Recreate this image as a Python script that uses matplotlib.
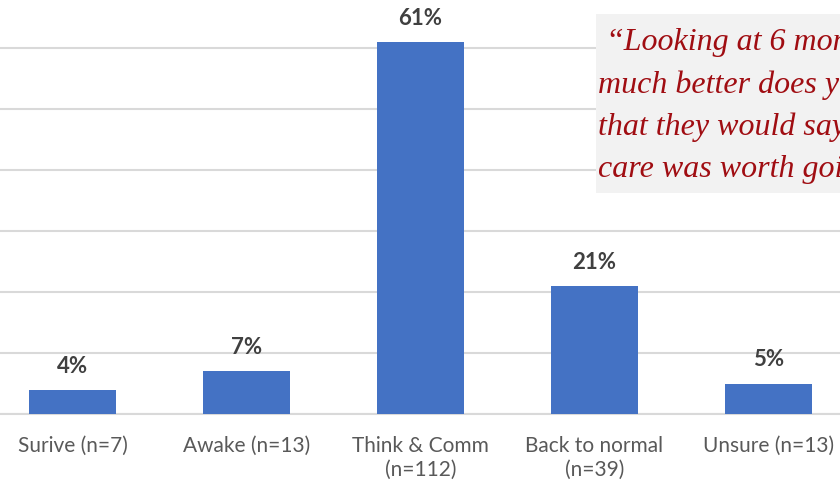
import matplotlib
matplotlib.use("Agg")
import matplotlib.pyplot as plt
from matplotlib.patches import Rectangle

categories = ["Surive (n=7)", "Awake (n=13)", "Think & Comm\n(n=112)",
              "Back to normal\n(n=39)", "Unsure (n=13)"]
percentages = [4, 7, 61, 21, 5]
y_ticks = [0, 10, 20, 30, 40, 50, 60]
quote_lines = [" \u201cLooking at 6 months, how",
               "much better does your patient",
               "that they would say their ICU",
               "care was worth going through?\u201d"]

BAR_BLUE = "#4472c4"
GRID_GREY = "#d9d9d9"
TEXT_GREY = "#595959"
LABEL_DARK = "#404040"
QUOTE_RED = "#a00d12"

fig = plt.figure(figsize=(8.4, 4.9), dpi=100)
W, H = 840, 490

# axes spans slightly past the figure edges
ax_left, ax_right = -14.5, 855.5
ax_bottom, ax_top = 414, 0
ax = fig.add_axes([ax_left / W, 1 - ax_bottom / H,
                   (ax_right - ax_left) / W, (ax_bottom - ax_top) / H])

x = list(range(len(categories)))
bars = ax.bar(x, percentages, width=0.5, color=BAR_BLUE, zorder=3)
ax.set_xlim(-0.5, len(categories) - 0.5)
ax.set_ylim(0, 67.9)
ax.set_yticks(y_ticks)
ax.yaxis.grid(True, color=GRID_GREY, linewidth=1.5, zorder=0)
ax.tick_params(axis="y", left=False, labelleft=False)
ax.set_xticks(x)
ax.set_xticklabels(categories, fontsize=15, color=TEXT_GREY,
                   family="Lato", linespacing=1.25)
ax.tick_params(axis="x", length=0, pad=16)
for side in ("top", "right", "left"):
    ax.spines[side].set_visible(False)
ax.spines["bottom"].set_color(GRID_GREY)
ax.spines["bottom"].set_linewidth(1.5)

for rect, v in zip(bars, percentages):
    ax.annotate(f"{v}%", (rect.get_x() + rect.get_width() / 2, v),
                xytext=(0, 17), textcoords="offset points",
                ha="center", va="center", fontsize=16, fontweight="bold",
                color=LABEL_DARK, family="Lato", zorder=4)

# quotation panel in the upper right
box_x0, box_y0, box_y1 = 596, 14, 193
fig.patches.append(Rectangle((box_x0 / W, 1 - box_y1 / H),
                             (W - box_x0 + 10) / W, (box_y1 - box_y0) / H,
                             transform=fig.transFigure, facecolor="#f2f2f2",
                             edgecolor="none", zorder=5))
baselines = [50, 93, 135, 177]
for line, yb in zip(quote_lines, baselines):
    fig.text(598 / W, 1 - yb / H, line, fontsize=23, style="italic",
             family="Liberation Serif", color=QUOTE_RED, va="baseline",
             ha="left", zorder=6)

fig.savefig("out.png", dpi=100)
